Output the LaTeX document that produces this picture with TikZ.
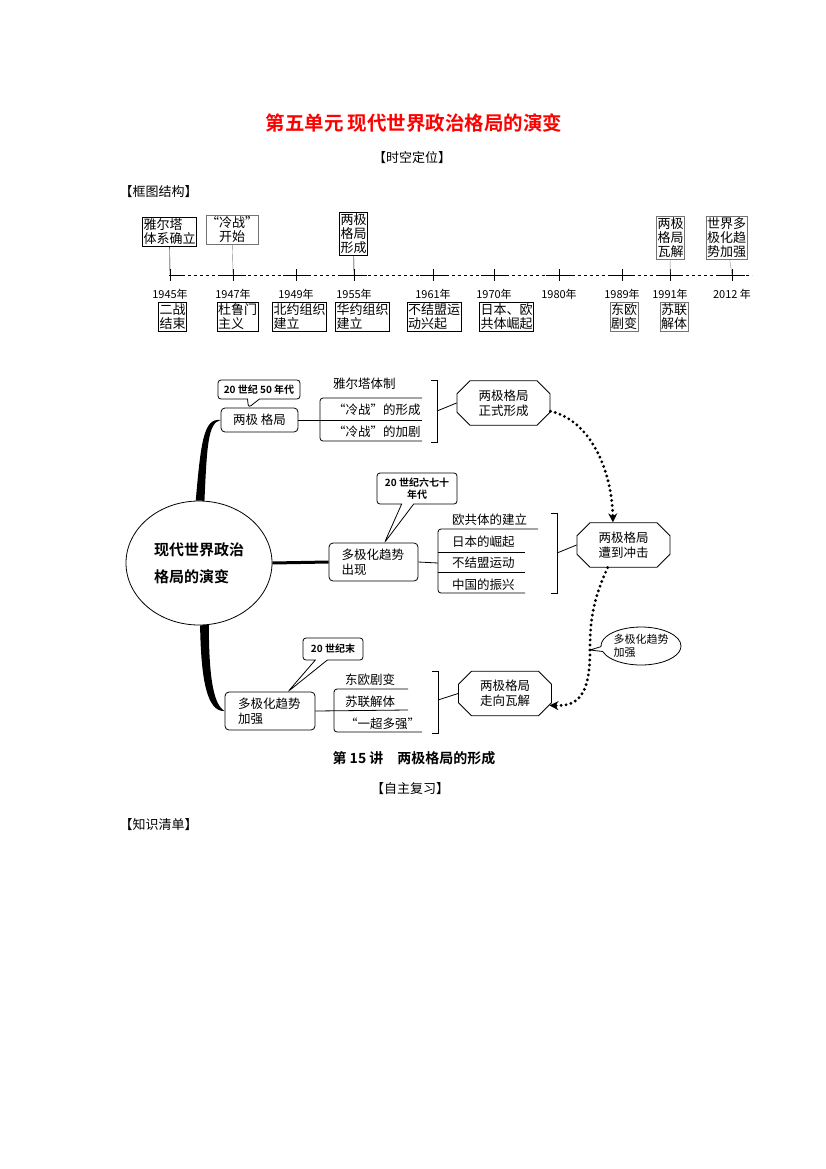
\documentclass[tikz,border=0pt]{standalone}
\usepackage{fontspec}
\setmainfont{Noto Sans CJK SC}[BoldFont={Noto Sans CJK SC Bold}]
\usetikzlibrary{shapes.geometric,shapes.misc,shapes.callouts,arrows.meta,calc}

\begin{document}
\begin{tikzpicture}[x=1pt,y=-1pt,
  tlbox/.style={draw, inner xsep=1pt, inner ysep=1.5pt, font=\fontsize{13}{14}\selectfont},
  yrlbl/.style={inner sep=0pt, font=\fontsize{11}{12}\selectfont},
  mbox/.style={draw, thick, rounded corners=4pt, font=\fontsize{12.5}{15}\selectfont},
  octbox/.style={chamfered rectangle, chamfered rectangle xsep=7pt, chamfered rectangle ysep=6pt, draw, thick, inner ysep=3pt, minimum width=93pt, minimum height=39pt, align=center, font=\fontsize{12.5}{15}\selectfont},
  tag/.style={rectangle callout, draw, thick, rounded corners=3pt, callout pointer width=12pt, align=center, inner sep=1.5pt, font=\bfseries\fontsize{10}{12}\selectfont},
  item/.style={anchor=west, inner sep=0pt, font=\fontsize{12.5}{14}\selectfont},
  dotline/.style={line width=3.2pt, dash pattern=on 0pt off 5pt, line cap=round},
]
\useasboundingbox (0,0) rectangle (826,1169);

% headings
\node [text=red, font=\bfseries\fontsize{19.5}{22}\selectfont] (title) at (414,123) {第五单元\ 现代世界政治格局的演变};
\node [font=\fontsize{13}{15}\selectfont] (sk) at (412,158) {【时空定位】};
\node [anchor=west, font=\fontsize{13}{15}\selectfont] (kt) at (116,192) {【框图结构】};

% time line
\draw [dashed] (170,275) -- (752,275);
\foreach \x/\yr/\lbl in {170/45/1945年,233/47/1947年,296/49/1949年,354/55/1955年,433/61/1961年,494/70/1970年,559/80/1980年,622/89/1989年,670/91/1991年,732/12/2012 年} {
  \coordinate (tk\yr) at (\x,275);
  \draw (\x-13,275) -- (\x+13,275) (\x,269) -- (\x,281);
  \node [yrlbl] (yr\yr) at (\x,294) {\lbl};
}
\draw [white, line width=2pt] (156,275) -- (169.2,275);

\node [tlbox, align=left] (u45) at (169.5,231.5) {雅尔塔\\体系确立};
\node [tlbox, align=center, inner xsep=0pt, draw=black!55] (u47) at (232,229.5) {“冷战”\\开始};
\node [tlbox, align=center] (u55) at (353.5,234) {两极\\格局\\形成};
\node [tlbox, align=center, draw=black!55] (u91) at (670.5,237.5) {两极\\格局\\瓦解};
\node [tlbox, align=left, draw=black!55] (u12) at (726.5,237.5) {世界多\\极化趋\\势加强};
\draw (u45) -- (tk45);
\draw [black!45] (u47) -- (tk47);
\draw (u55) -- (tk55);
\draw [black!45] (u91) -- (tk91);
\draw [black!45] (u12) -- (tk12);

\node [tlbox, anchor=north, align=left] (d45) at (172.5,302) {二战\\结束};
\node [tlbox, anchor=north, align=left] (d47) at (237.5,302) {杜鲁门\\主义};
\node [tlbox, anchor=north, align=left] (d49) at (299.5,302) {北约组织\\建立};
\node [tlbox, anchor=north, align=left] (d55) at (362.5,302) {华约组织\\建立};
\node [tlbox, anchor=north, align=left] (d61) at (434,302) {不结盟运\\动兴起};
\node [tlbox, anchor=north, align=left] (d70) at (506.5,302) {日本、欧\\共体崛起};
\node [tlbox, anchor=north, align=left, draw=black!55] (d89) at (624,302) {东欧\\剧变};
\node [tlbox, anchor=north, align=left, draw=black!55] (d91) at (674,302) {苏联\\解体};

% mind map
\node [ellipse, draw, thick, minimum width=146pt, minimum height=124pt, align=left, font=\bfseries\fontsize{15}{27}\selectfont] (root) at (199,563) {现代世界政治\\格局的演变};

\node [mbox, minimum width=77pt, minimum height=24pt] (bj) at (259.5,420) {两极\ 格局};
\node [mbox, minimum width=89pt, minimum height=38pt, align=left, text width=64pt] (bd) at (373.5,562) {多极化趋势\\出现};
\node [mbox, minimum width=90pt, minimum height=38pt, align=left, text width=64pt] (bm) at (270,711) {多极化趋势\\加强};

\node [tag, minimum width=82pt, minimum height=19pt, callout absolute pointer={($(bj.north)+(-11,0)$)}] (c50) at (259,389.5) {20 世纪 50 年代};
\node [tag, minimum width=80pt, minimum height=31pt, callout absolute pointer={($(bd.north)+(11,0)$)}] (c67) at (417,488.5) {20 世纪六七十\\年代};
\node [tag, minimum width=60pt, minimum height=22pt, callout absolute pointer={($(bm.north)+(18,0)$)}] (c20) at (333,649) {20 世纪末};

\fill (root.93) .. controls (201,440) and (204,418) .. (bj.west) .. controls (208,423) and (207,445) .. (root.85) -- cycle;
\draw [line width=3pt] (root.east) -- (bd.west);
\fill (root.271) .. controls (201,680) and (207,712) .. (bm.west) .. controls (212,704) and (209,670) .. (root.279) -- cycle;

\node [octbox] (o1) at (503.5,403) {两极格局\\正式形成};
\node [octbox] (o2) at (623.5,545) {两极格局\\遭到冲击};
\node [octbox] (o3) at (505,693.5) {两极格局\\走向瓦解};

% first group
\node [item] (a1) at (333,384) {雅尔塔体制};
\node [item] (a2) at (333,410) {“冷战”的形成};
\node [item] (a3) at (333,432) {“冷战”的加剧};
\draw [thick, rounded corners=3pt] (422,398) -- (320,398) -- (320,441) -- (422,441);
\draw [thick] (bj.east) -- (422,420);
\draw [thick] (431,380) -- (437,380) -- (437,442) -- (431,442);
\coordinate (k1) at (437,411);
\draw [thick] (k1) -- (o1.west);

% second group
\node [item] (b1) at (452,520) {欧共体的建立};
\node [item] (b2) at (452,542) {日本的崛起};
\node [item] (b3) at (452,563) {不结盟运动};
\node [item] (b4) at (452,585) {中国的振兴};
\draw [thick, rounded corners=3pt] (538,529) -- (438,529) -- (438,593) -- (525,593);
\draw [thick] (438,552) -- (525,552) (438,572) -- (525,572);
\draw [thick] (bd.east) -- (438,563);
\draw [thick] (551,513) -- (557,513) -- (557,593) -- (551,593);
\coordinate (k2) at (557,553);
\draw [thick] (k2) -- (o2.west);

% third group
\node [item] (e1) at (345,680) {东欧剧变};
\node [item] (e2) at (345,702) {苏联解体};
\node [item] (e3) at (345,724) {“一超多强”};
\draw [thick, rounded corners=3pt] (408,689) -- (334,689) -- (334,732) -- (422,732);
\draw [thick] (bm.east) -- (408,710);
\draw [thick] (432,671) -- (438,671) -- (438,733) -- (432,733);
\coordinate (k3) at (438,700);
\draw [thick] (k3) -- (o3.west);

% dotted arrows
\coordinate (pq) at (590,650);
\draw [dotline, -{Stealth[length=9pt,width=9pt]}] (o1.-10) .. controls (590,420) and (612,470) .. (o2.115);
\draw [dotline, -{Stealth[length=9pt,width=9pt]}] (o2.235) .. controls (593,600) and (590,620) .. (pq) .. controls (590,700) and (575,706) .. (o3.-15);
\node [ellipse callout, draw, thick, inner sep=0pt, callout absolute pointer={(pq)}, minimum width=80pt, minimum height=38pt, align=left, font=\fontsize{11}{13}\selectfont] (ce) at (641,646) {多极化趋势\\加强};

% bottom headings
\node [font=\bfseries\fontsize{14}{16}\selectfont] (lec) at (414,758) {第 15 讲\quad 两极格局的形成};
\node [font=\fontsize{13}{15}\selectfont] (zz) at (410,789) {【自主复习】};
\node [anchor=west, font=\fontsize{13}{15}\selectfont] (zs) at (116,825) {【知识清单】};
\end{tikzpicture}
\end{document}
